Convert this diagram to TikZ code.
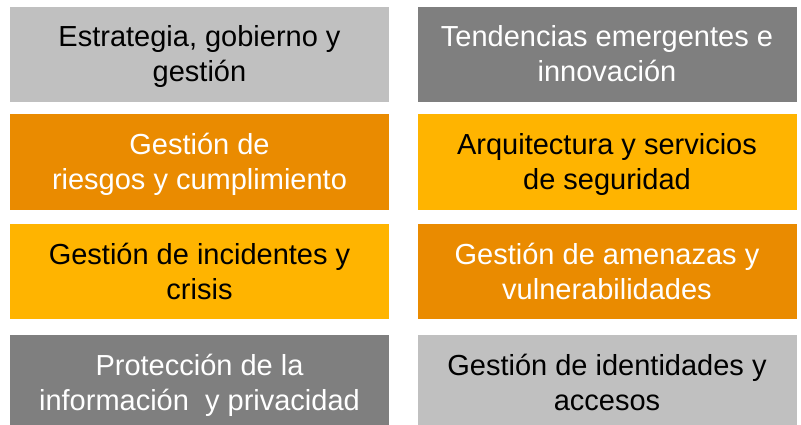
\documentclass[tikz,border=0pt]{standalone}
\usepackage{fontspec}
\setmainfont{Liberation Sans}
\definecolor{grisclaro}{HTML}{C0C0C0}
\definecolor{grisoscuro}{HTML}{7F7F7F}
\definecolor{naranja}{HTML}{EA8B00}
\definecolor{oro}{HTML}{FFB400}
% texto de dos lineas, algo mas abajo del centro
\newcommand{\lineas}[1]{\raisebox{-3pt}[\height][\depth]{\begin{tabular}{@{}c@{}}#1\end{tabular}}}
\begin{document}
\begin{tikzpicture}[x=1pt,y=-1pt]
\tikzstyle{every node}=[rectangle,minimum width=379pt,minimum height=95pt,inner sep=0pt,
  font=\fontsize{29}{35}\selectfont]
\tikzstyle{claro}=[fill=grisclaro,text=black]
\tikzstyle{oscuro}=[fill=grisoscuro,text=white]
\tikzstyle{naranjo}=[fill=naranja,text=white]
\tikzstyle{dorado}=[fill=oro,text=black]
\useasboundingbox (0,0) rectangle (801,425);
\clip (0,0) rectangle (801,425);
\node[claro] at (199.5,54.5) (estrategia) {\lineas{Estrategia, gobierno y\\gestión}};
\node[oscuro] at (607,54.5) (tendencias) {\lineas{Tendencias emergentes e\\innovación}};
\node[naranjo] at (199.5,162) (riesgos) {\lineas{Gestión de\\riesgos y cumplimiento}};
\node[dorado] at (607,162) (arquitectura) {\lineas{Arquitectura y servicios\\de seguridad}};
\node[dorado] at (199.5,271.5) (incidentes) {\lineas{Gestión de incidentes y\\crisis}};
\node[naranjo] at (607,271.5) (amenazas) {\lineas{Gestión de amenazas y\\vulnerabilidades}};
\node[oscuro] at (199.5,382.5) (proteccion) {\lineas{Protección de la\\información\ \ y privacidad}};
\node[claro] at (607,382.5) (identidades) {\lineas{Gestión de identidades y\\accesos}};
\end{tikzpicture}
\end{document}
